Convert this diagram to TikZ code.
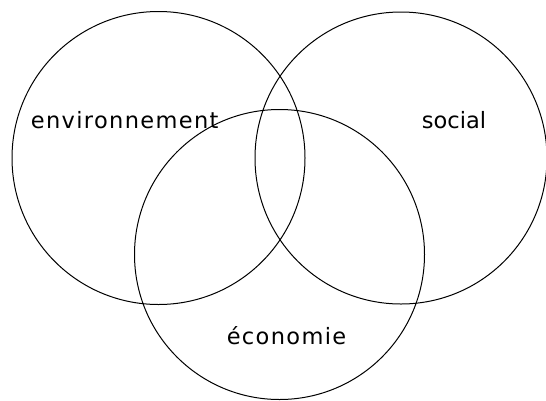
\documentclass[tikz,border=0pt]{standalone}
\usepackage{fontspec}
\setmainfont{DejaVu Sans}
\newfontfamily\widefont[LetterSpace=6]{DejaVu Sans}
\begin{document}
\begin{tikzpicture}[x=1pt,y=-1pt,
  ring/.style={circle, draw=black, line width=1pt, inner sep=0pt, minimum size=#1},
  lbl/.style={anchor=base, inner sep=0pt, font=\fontsize{22.5}{26}\selectfont},
  widelbl/.style={anchor=base, inner sep=0pt, font=\widefont\fontsize{22.5}{26}\selectfont}]
\useasboundingbox[fill=white] (0,0) rectangle (546,400);
\node[ring=293pt] (env) at (158.5,158) {};
\node[ring=292pt] (soc) at (401,158) {};
\node[ring=290pt] (eco) at (279.5,254.5) {};
\node[widelbl] (tenv) at (124.7,128) {environnement};
\node[lbl] (tsoc) at (454,128) {social};
\node[widelbl] (teco) at (286.5,344) {économie};
\end{tikzpicture}
\end{document}
